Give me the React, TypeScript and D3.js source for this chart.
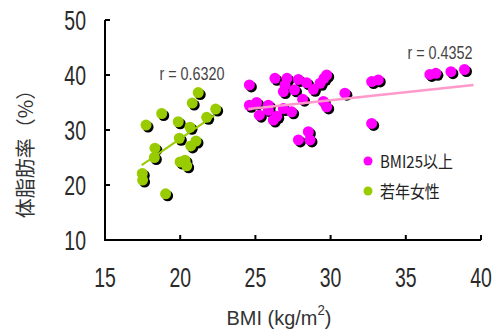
import React from 'react';
import * as d3 from 'd3';

// BMI25以上 (magenta)
const overBMI = [24.6, 26.3, 27.1, 26.97, 26.86, 27.86, 28.4, 27.6, 28.85, 29.3, 29.74, 29.56, 24.6, 25.08, 25.86, 25.26, 25.86, 26.19, 26.42, 26.86, 27.41, 28.14, 29.52, 29.74, 30.95, 32.73, 33.17, 32.73, 27.86, 28.52, 28.63, 36.6, 37.0, 38.0, 38.9];
const overFat = [38.2, 39.4, 39.4, 38.2, 37.0, 39.2, 38.6, 37.3, 37.4, 38.5, 40.0, 39.4, 34.5, 35.0, 34.5, 32.7, 33.6, 31.8, 32.5, 33.9, 33.3, 35.6, 35.2, 34.2, 36.7, 38.8, 39.1, 31.2, 28.2, 29.7, 28.2, 40.1, 40.3, 40.6, 41.0];

// 若年女性 (green)
const youngBMI = [21.2, 20.8, 18.77, 22.36, 21.76, 17.73, 19.87, 20.65, 19.94, 21.05, 20.7, 18.32, 18.28, 19.99, 20.32, 20.43, 17.48, 17.5, 19.03];
const youngFat = [36.8, 34.9, 33.0, 33.8, 32.3, 30.9, 31.5, 30.5, 28.5, 28.0, 27.1, 26.7, 25.0, 24.2, 24.5, 23.5, 22.1, 20.9, 18.4];

// regression lines: [young, over]
const fitSlopes = [1.87, 0.293];
const fitIntercepts = [-9.0, 26.61];
const fitFrom = [17.44, 24.53];
const fitTo = [22.3, 39.5];
const fitLabels = ['r = 0.6320', 'r = 0.4352'];

const xTicks = [15, 20, 25, 30, 35, 40];
const yTicks = [10, 20, 30, 40, 50];
const legendNames = ['BMI25以上', '若年女性'];

const MAGENTA = '#ff00ff';
const GREEN = '#99cc00';
const PINK = '#ff99cc';
const numFont = '"Liberation Sans", Arial, sans-serif';
const jpFont = '"Noto Sans CJK JP", sans-serif';

// condensed text: the original uses a narrow gothic face
const Narrow = ({ x, y, sx = 0.72, anchor = 'middle', size, fill = '#222', children }: any) => (
  <text
    transform={`translate(${x},${y}) scale(${sx},1)`}
    textAnchor={anchor}
    dominantBaseline="central"
    fontSize={size}
    fill={fill}
  >
    {children}
  </text>
);

export default function App() {
  const x = d3.scaleLinear().domain([15, 40]).range([105, 481]);
  const y = d3.scaleLinear().domain([10, 50]).range([240, 20]);
  const r = 5.5;

  const over = overBMI.map((b, i) => ({ b, f: overFat[i] }));
  const young = youngBMI.map((b, i) => ({ b, f: youngFat[i] }));

  const fitPath = (k: number) => {
    const pts: [number, number][] = [fitFrom[k], fitTo[k]].map(v => [x(v), y(fitIntercepts[k] + fitSlopes[k] * v)]);
    return d3.line()(pts) as string;
  };

  return (
    <svg width={494} height={332} style={{ position: 'absolute', left: 0, top: 0, background: '#fff' }}>
      {/* axes */}
      <g stroke="#000" strokeWidth={2} fill="none">
        <path d={`M${x(15)},${y(50)}V${y(10)}H${x(40)}`} />
        {yTicks.map(t => (
          <line key={'yt' + t} x1={x(15)} x2={x(15) + 5} y1={y(t)} y2={y(t)} />
        ))}
        {xTicks.map(t => (
          <line key={'xt' + t} x1={x(t)} x2={x(t)} y1={y(10)} y2={y(10) - 5} />
        ))}
      </g>
      <g fontFamily={numFont}>
        {yTicks.map(t => (
          <Narrow key={'yl' + t} x={86} y={y(t) + 1} anchor="end" size={27} fill="#2a2a2a">{t}</Narrow>
        ))}
        {xTicks.map(t => (
          <Narrow key={'xl' + t} x={x(t)} y={278} size={27} fill="#2a2a2a">{t}</Narrow>
        ))}
        <Narrow x={279} y={317} size={21} sx={0.95} fill="#333">
          BMI (kg/m<tspan dy={-7} fontSize={14}>2</tspan><tspan dy={7}>)</tspan>
        </Narrow>
      </g>
      <text transform="translate(24,149) rotate(-90)" textAnchor="middle" dominantBaseline="central" fontFamily={jpFont} fontSize={20} fill="#333">
        体脂肪率（%）
      </text>

      {/* shadows */}
      <g fill="#000">
        {young.map((d, i) => <circle key={'ys' + i} cx={x(d.b) + 2} cy={y(d.f) + 2} r={r} />)}
        {over.map((d, i) => <circle key={'os' + i} cx={x(d.b) + 2} cy={y(d.f) + 2} r={r} />)}
      </g>
      <g fill={GREEN}>
        {young.map((d, i) => <circle key={'y' + i} cx={x(d.b)} cy={y(d.f)} r={r} />)}
      </g>
      <g fill={MAGENTA}>
        {over.map((d, i) => <circle key={'o' + i} cx={x(d.b)} cy={y(d.f)} r={r} />)}
      </g>

      {/* regression lines */}
      <path d={fitPath(0)} stroke={GREEN} strokeWidth={2} fill="none" />
      <path d={fitPath(1)} stroke={PINK} strokeWidth={2.5} fill="none" />
      <g fontFamily={numFont}>
        <Narrow x={192} y={73} size={18} sx={0.8} fill="#444">{fitLabels[0]}</Narrow>
        <Narrow x={440} y={52} size={18} sx={0.8} fill="#444">{fitLabels[1]}</Narrow>
      </g>

      {/* legend */}
      {legendNames.map((n, i) => (
        <g key={n} transform={`translate(368,${161 + i * 30})`}>
          <circle r={4.5} fill={i === 0 ? MAGENTA : GREEN} />
          <g fontFamily={jpFont}>
            <Narrow x={12} y={0} anchor="start" size={17} sx={0.88}>{n}</Narrow>
          </g>
        </g>
      ))}
    </svg>
  );
}
